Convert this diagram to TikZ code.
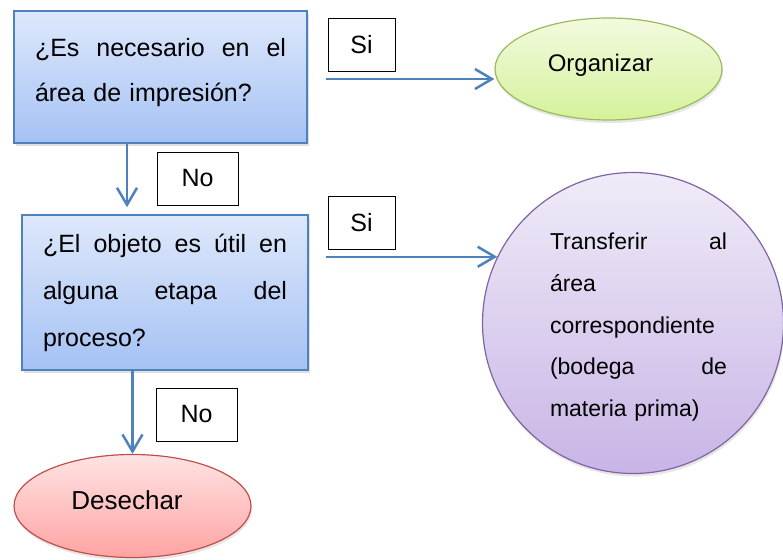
\documentclass[tikz,border=0pt]{standalone}
\usepackage{fontspec}
\setmainfont{Liberation Sans}
\usetikzlibrary{arrows.meta,positioning,calc,shapes.geometric,shadows}
\definecolor{FlowBlue}{HTML}{4F81BD}
\definecolor{BoxTop}{HTML}{DEE8FB}
\definecolor{BoxBottom}{HTML}{A5C2F4}
\definecolor{LeafLine}{HTML}{9BBB59}
\definecolor{LeafTop}{HTML}{F3FADF}
\definecolor{LeafBottom}{HTML}{D5F29B}
\definecolor{PlumLine}{HTML}{8064A2}
\definecolor{PlumTop}{HTML}{F0EBF8}
\definecolor{PlumBottom}{HTML}{C8B5E6}
\definecolor{RoseLine}{HTML}{C0504D}
\definecolor{RoseTop}{HTML}{FFE3E3}
\definecolor{RoseBottom}{HTML}{FFA3A3}
\newcommand\wgap{\hskip 0pt plus 1filll\relax}

\begin{document}
\begin{tikzpicture}[x=1pt,y=1pt,
  question/.style={draw=FlowBlue,line width=1.5pt,top color=BoxTop,bottom color=BoxBottom,align=left,inner sep=0pt,drop shadow={opacity=0.25,shadow xshift=1.5pt,shadow yshift=-3pt}},
  result/.style={ellipse,line width=1.2pt,inner sep=0pt,text depth=12pt,font=\fontsize{24}{29}\selectfont,drop shadow={opacity=0.2,shadow xshift=1pt,shadow yshift=-3pt}},
  tag/.style={draw=black,line width=0.9pt,fill=white,inner sep=0pt,minimum height=53pt,font=\fontsize{25}{30}\selectfont},
  flow/.style={-{Straight Barb[length=17pt,width=20pt]},line width=2.5pt,draw=FlowBlue}
]
  \useasboundingbox (0,0) rectangle (783,-559);
  \node[question,minimum width=293pt,minimum height=132pt,text width=251pt,text height=10pt,font=\fontsize{25}{45}\selectfont] (q1) at (160.5,-77) {¿Es\wgap necesario\wgap en\wgap el\\área de impresión?};
  \node[question,minimum width=286pt,minimum height=155pt,text width=244pt,font=\fontsize{25}{47}\selectfont] (q2) at (165,-292.5) {¿El\wgap objeto\wgap es\wgap útil\wgap en\\alguna\wgap etapa\wgap del\\proceso?};
  \node[result,draw=LeafLine,top color=LeafTop,bottom color=LeafBottom,minimum width=227pt,minimum height=102pt] (org) at (608.5,-69) {Organizar\hspace*{16pt}};
  \node[circle,draw=PlumLine,line width=1.2pt,top color=PlumTop,bottom color=PlumBottom,minimum size=301pt,inner sep=0pt,text width=188pt,text height=25pt,align=left,font=\fontsize{23}{41.7}\selectfont,drop shadow={opacity=0.2,shadow xshift=1pt,shadow yshift=-3pt}] (tra) at (633,-323) {\leftskip=11pt Transferir\wgap al\\área\\correspondiente\\(bodega\wgap de\\materia prima)\par};
  \node[result,draw=RoseLine,top color=RoseTop,bottom color=RoseBottom,minimum width=237pt,minimum height=103pt,font=\fontsize{26}{31}\selectfont] (des) at (132.5,-506) {Desechar\hspace*{11pt}};
  \node[tag,minimum width=67pt] (si1) at (361.5,-44.5) {Si};
  \node[tag,minimum width=81pt] (no1) at (197.5,-178.5) {No};
  \node[tag,minimum width=67pt] (si2) at (361.5,-223) {Si};
  \node[tag,minimum width=81pt] (no2) at (196.5,-414.5) {No};
  \draw[flow] ([xshift=-33.5pt]q1.south) -- ([xshift=-38pt,yshift=7pt]q2.north);
  \draw[flow] ($(q1.east)+(18,-2)$) -- ($(q1.east -| org.west)+(0,-2)$);
  \draw[flow] ($(q2.east |- tra.154)+(17,0)$) -- (tra.154);
  \draw[flow] ([xshift=-32.5pt]q2.south) -- (des.north);
\end{tikzpicture}
\end{document}
